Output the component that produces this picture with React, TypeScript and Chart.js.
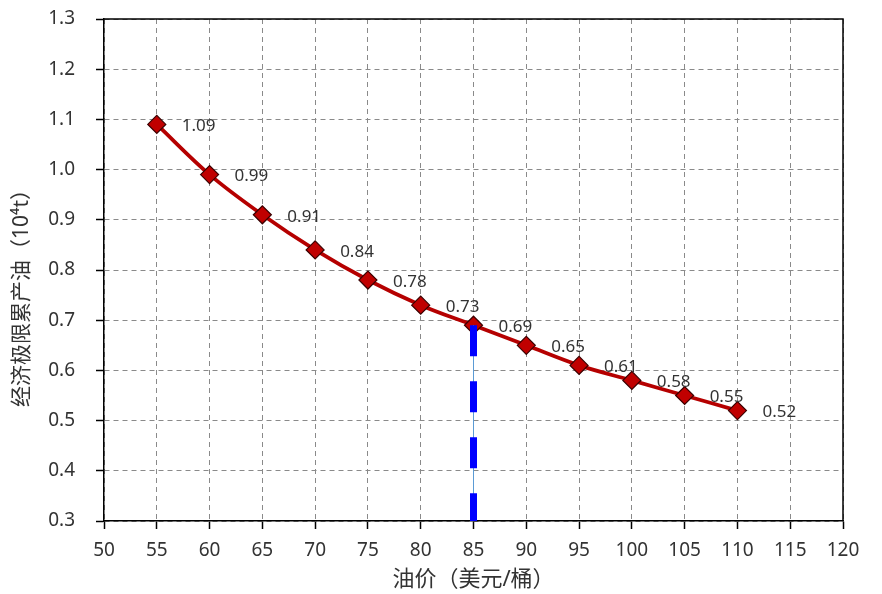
import React, { useEffect, useRef } from "react";
import { Chart, registerables } from "chart.js";

Chart.register(...registerables);

const oilPrices = [55, 60, 65, 70, 75, 80, 85, 90, 95, 100, 105, 110];
const limitOutput = [1.09, 0.99, 0.91, 0.84, 0.78, 0.73, 0.69, 0.65, 0.61, 0.58, 0.55, 0.52];
const markerPrice = 85;
const markerRange = [0.69, 0.3];
const xTitle = "油价（美元/桶）";
const yTitle = "经济极限累产油（10⁴t）";

const FONT = "'Noto Sans', 'Noto Sans CJK SC', sans-serif";

export default function App() {
  const ref = useRef<HTMLCanvasElement | null>(null);

  useEffect(() => {
    const canvas = ref.current;
    if (!canvas) return;

    const labelPlugin = {
      id: "valueLabels",
      afterDatasetsDraw(chart: any) {
        const meta = chart.getDatasetMeta(2);
        const ctx = chart.ctx;
        ctx.save();
        ctx.font = `17px ${FONT}`;
        ctx.fillStyle = "#333333";
        ctx.textAlign = "left";
        ctx.textBaseline = "middle";
        meta.data.forEach((pt: any, i: number) => {
          ctx.fillText(limitOutput[i].toFixed(2), pt.x + 25, pt.y + 2);
        });
        ctx.restore();
      },
      afterDraw(chart: any) {
        const ctx = chart.ctx;
        ctx.save();
        ctx.translate(22, 293);
        ctx.rotate(-Math.PI / 2);
        ctx.font = `21px ${FONT}`;
        ctx.fillStyle = "#333333";
        ctx.textAlign = "center";
        ctx.textBaseline = "middle";
        ctx.fillText(yTitle, 0, 0);
        ctx.restore();
      },
    };

    const boxPlugin = {
      id: "box",
      beforeDatasetsDraw(chart: any) {
        const { ctx, chartArea } = chart;
        ctx.save();
        ctx.strokeStyle = "#000000";
        ctx.lineWidth = 1.5;
        ctx.beginPath();
        ctx.moveTo(chartArea.left, chartArea.top);
        ctx.lineTo(chartArea.right, chartArea.top);
        ctx.lineTo(chartArea.right, chartArea.bottom);
        ctx.stroke();
        ctx.restore();
      },
    };

    const chart = new Chart(canvas, {
      type: "line",
      data: {
        datasets: [
          {
            data: markerRange.map((y) => ({ x: markerPrice, y })),
            borderColor: "#0000FF",
            borderWidth: 7,
            borderDash: [31, 25],
            pointRadius: 0,
            fill: false,
          },
          {
            data: markerRange.map((y) => ({ x: markerPrice, y })),
            borderColor: "#5B9BD5",
            borderWidth: 1,
            pointRadius: 0,
            fill: false,
          },
          {
            data: oilPrices.map((x, i) => ({ x, y: limitOutput[i] })),
            borderColor: "#B50000",
            borderWidth: 3.8,
            tension: 0.35,
            pointStyle: "rectRot",
            pointRadius: 9,
            pointBackgroundColor: "#C00000",
            pointBorderColor: "#3A0000",
            pointBorderWidth: 1.2,
            fill: false,
          },
        ],
      },
      options: {
        responsive: false,
        animation: false,
        layout: { padding: { top: 19, right: 39, bottom: 0, left: 0 } },
        plugins: {
          legend: { display: false },
          tooltip: { enabled: false },
        },
        scales: {
          x: {
            type: "linear",
            min: 50,
            max: 120,
            ticks: {
              stepSize: 5,
              color: "#333333",
              font: { family: FONT, size: 19 },
              padding: 10,
              maxRotation: 0,
            },
            grid: {
              color: "#8a8a8a",
              lineWidth: 1,
              tickLength: 8,
              tickColor: "#000000",
              tickWidth: 1.5,
            },
            border: { color: "#000000", width: 1.5, dash: [5, 4] },
            title: {
              display: true,
              text: xTitle,
              color: "#333333",
              font: { family: FONT, size: 22 },
              padding: { top: 0, bottom: 1 },
            },
            afterFit(scale: any) {
              scale.height = 73;
              scale.paddingLeft = 0;
              scale.paddingRight = 0;
              scale.paddingTop = 0;
              scale.paddingBottom = 0;
            },
          },
          y: {
            min: 0.3,
            max: 1.3,
            ticks: {
              stepSize: 0.1,
              color: "#333333",
              font: { family: FONT, size: 19 },
              padding: 21,
              callback: (v: any) => Number(v).toFixed(1),
            },
            grid: {
              color: "#8a8a8a",
              lineWidth: 1,
              tickLength: 8,
              tickColor: "#000000",
              tickWidth: 1.5,
            },
            border: { color: "#000000", width: 1.5, dash: [5, 4] },
            title: { display: false },
            afterFit(scale: any) {
              scale.width = 104;
              scale.paddingLeft = 0;
              scale.paddingRight = 0;
              scale.paddingTop = 0;
              scale.paddingBottom = 0;
            },
          },
        },
      },
      plugins: [labelPlugin, boxPlugin],
    });

    return () => chart.destroy();
  }, []);

  return (
    <div style={{ position: "absolute", left: 0, top: 0, width: 882, height: 594, background: "#ffffff" }}>
      <canvas ref={ref} width={882} height={594} />
    </div>
  );
}
